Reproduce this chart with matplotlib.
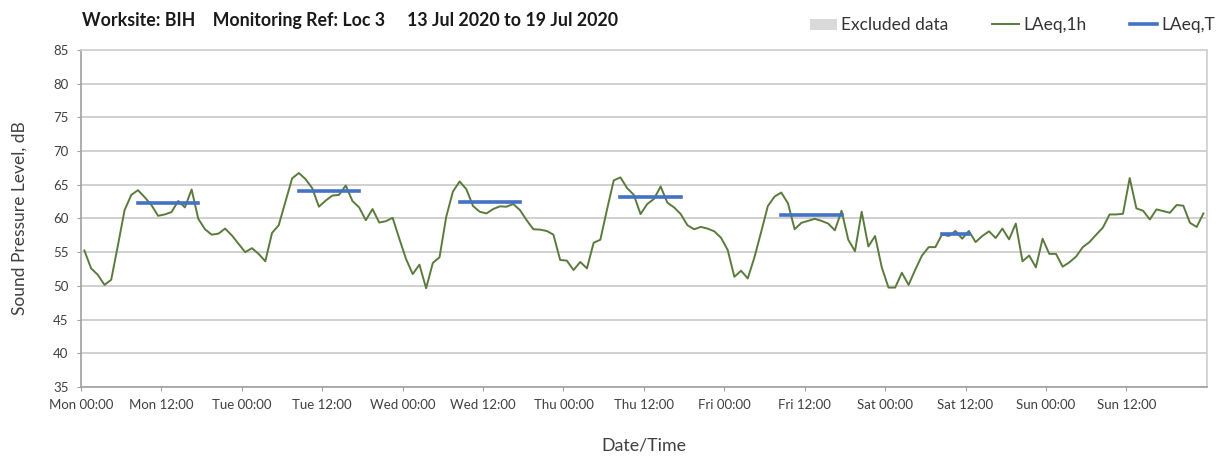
import numpy as np
import matplotlib
matplotlib.use('Agg')
from matplotlib import pyplot as plt
from matplotlib.patches import Patch
from matplotlib.lines import Line2D

# Hourly LAeq,1h readings, Mon 00:00 -> Sun 23:00
mon = [55.25, 52.6, 51.65, 50.15, 50.9, 56.0, 61.25, 63.5, 64.2, 63.15, 62.0, 60.4,
       60.6, 60.95, 62.6, 61.65, 64.3, 59.95, 58.4, 57.6, 57.75, 58.5, 57.5, 56.25]
tue = [55.0, 55.6, 54.75, 53.65, 57.85, 59.0, 62.5, 65.95, 66.75, 65.85, 64.5, 61.75,
       62.65, 63.4, 63.5, 64.9, 62.6, 61.65, 59.75, 61.4, 59.4, 59.6, 60.1, 57.0]
wed = [54.0, 51.75, 53.15, 49.65, 53.4, 54.25, 60.25, 64.0, 65.5, 64.35, 61.85, 61.0,
       60.75, 61.4, 61.8, 61.75, 62.15, 61.25, 59.75, 58.4, 58.35, 58.15, 57.6, 53.85]
thu = [53.75, 52.35, 53.55, 52.6, 56.4, 56.85, 61.35, 65.65, 66.1, 64.5, 63.5, 60.65,
       62.15, 62.9, 64.75, 62.35, 61.65, 60.65, 59.0, 58.4, 58.75, 58.5, 58.1, 57.15]
fri = [55.35, 51.35, 52.25, 51.1, 54.25, 58.0, 61.85, 63.25, 63.85, 62.25, 58.4, 59.35,
       59.65, 59.95, 59.65, 59.25, 58.25, 61.15, 56.85, 55.15, 61.0, 55.85, 57.4, 52.75]
sat = [49.75, 49.75, 51.95, 50.15, 52.4, 54.5, 55.75, 55.75, 57.65, 57.4, 58.15, 57.0,
       58.15, 56.5, 57.4, 58.1, 57.1, 58.5, 56.9, 59.25, 53.65, 54.5, 52.75, 57.0]
sun = [54.75, 54.75, 52.85, 53.5, 54.35, 55.75, 56.5, 57.6, 58.65, 60.6, 60.6, 60.7,
       66.0, 61.5, 61.15, 59.85, 61.35, 61.1, 60.85, 62.0, 61.9, 59.35, 58.75, 60.75]

days = ['Mon', 'Tue', 'Wed', 'Thu', 'Fri', 'Sat', 'Sun']

# LAeq,T over the working period of each day (start/end hour of day)
period_start = [8, 8, 8, 8, 8, 8]
period_end = [18, 18, 18, 18, 18, 13]
laeq_t = [62.25, 64.05, 62.45, 63.25, 60.5, 57.65]

laeq_1h = np.array(mon + tue + wed + thu + fri + sat + sun)
hours = np.arange(len(laeq_1h)) + 0.5

green = '#5b7b3d'
blue = '#4472c4'
grid_c = '#d0d0d0'
txt_c = '#404040'

plt.rcParams['font.family'] = ['Lato', 'DejaVu Sans']

fig = plt.figure(figsize=(12.26, 4.57), dpi=100)
ax = fig.add_axes([0.0661, 0.1532, 0.9182, 0.7374])

ax.plot(hours, laeq_1h, color=green, linewidth=1.4, zorder=3)

for d, (s, e, v) in enumerate(zip(period_start, period_end, laeq_t)):
    ax.plot([24 * d + s + 0.5, 24 * d + e - 0.5], [v, v], color=blue, linewidth=2.6,
            solid_capstyle='projecting', zorder=4)

ax.set_xlim(0, 168)
ax.set_ylim(35, 85)
ax.set_yticks(np.arange(35, 90, 5))

ticks = np.arange(0, 168, 12)
ax.set_xticks(ticks)
ax.set_xticklabels([f'{days[int(t) // 24]} {int(t) % 24:02d}:00' for t in ticks])
ax.set_xticks(np.arange(0, 169, 24), minor=True)

ax.grid(axis='y', color='#c8c8c8', linewidth=1.2)
ax.grid(axis='x', which='minor', color=grid_c, linewidth=1.2)
ax.set_axisbelow(True)

for side in ['left', 'bottom']:
    ax.spines[side].set_color('#a0a0a0')
    ax.spines[side].set_linewidth(1.2)
for side in ['top', 'right']:
    ax.spines[side].set_color(grid_c)
    ax.spines[side].set_linewidth(1.2)

ax.tick_params(axis='both', which='major', length=3, color='#a0a0a0', labelsize=9.5,
               labelcolor=txt_c, direction='out')
ax.tick_params(axis='y', pad=6)
ax.tick_params(axis='x', which='minor', length=0)
ax.tick_params(axis='x', pad=6)

ax.set_xlabel('Date/Time', fontsize=12.8, color=txt_c, labelpad=19)
ax.set_ylabel('Sound Pressure Level, dB', fontsize=12.5, color=txt_c, labelpad=18)

fig.text(0.067, 0.955, 'Worksite: BIH    Monitoring Ref: Loc 3     13 Jul 2020 to 19 Jul 2020',
         fontsize=12.8, fontweight='bold', color='#1a1a1a', va='center')

handles = [Patch(facecolor='#d9d9d9', edgecolor='none'),
           Line2D([], [], color=green, linewidth=1.4),
           Line2D([], [], color=blue, linewidth=2.6)]
fig.legend(handles, ['Excluded data', 'LAeq,1h', 'LAeq,T'], loc='center right',
           bbox_to_anchor=(1215 / 1226, 0.945), ncol=3, frameon=False, fontsize=12.5,
           handlelength=1.55, handleheight=0.6, handletextpad=0.25, columnspacing=2.5,
           borderpad=0, borderaxespad=0, labelcolor='#333333')

fig.savefig('out.png', dpi=100)
